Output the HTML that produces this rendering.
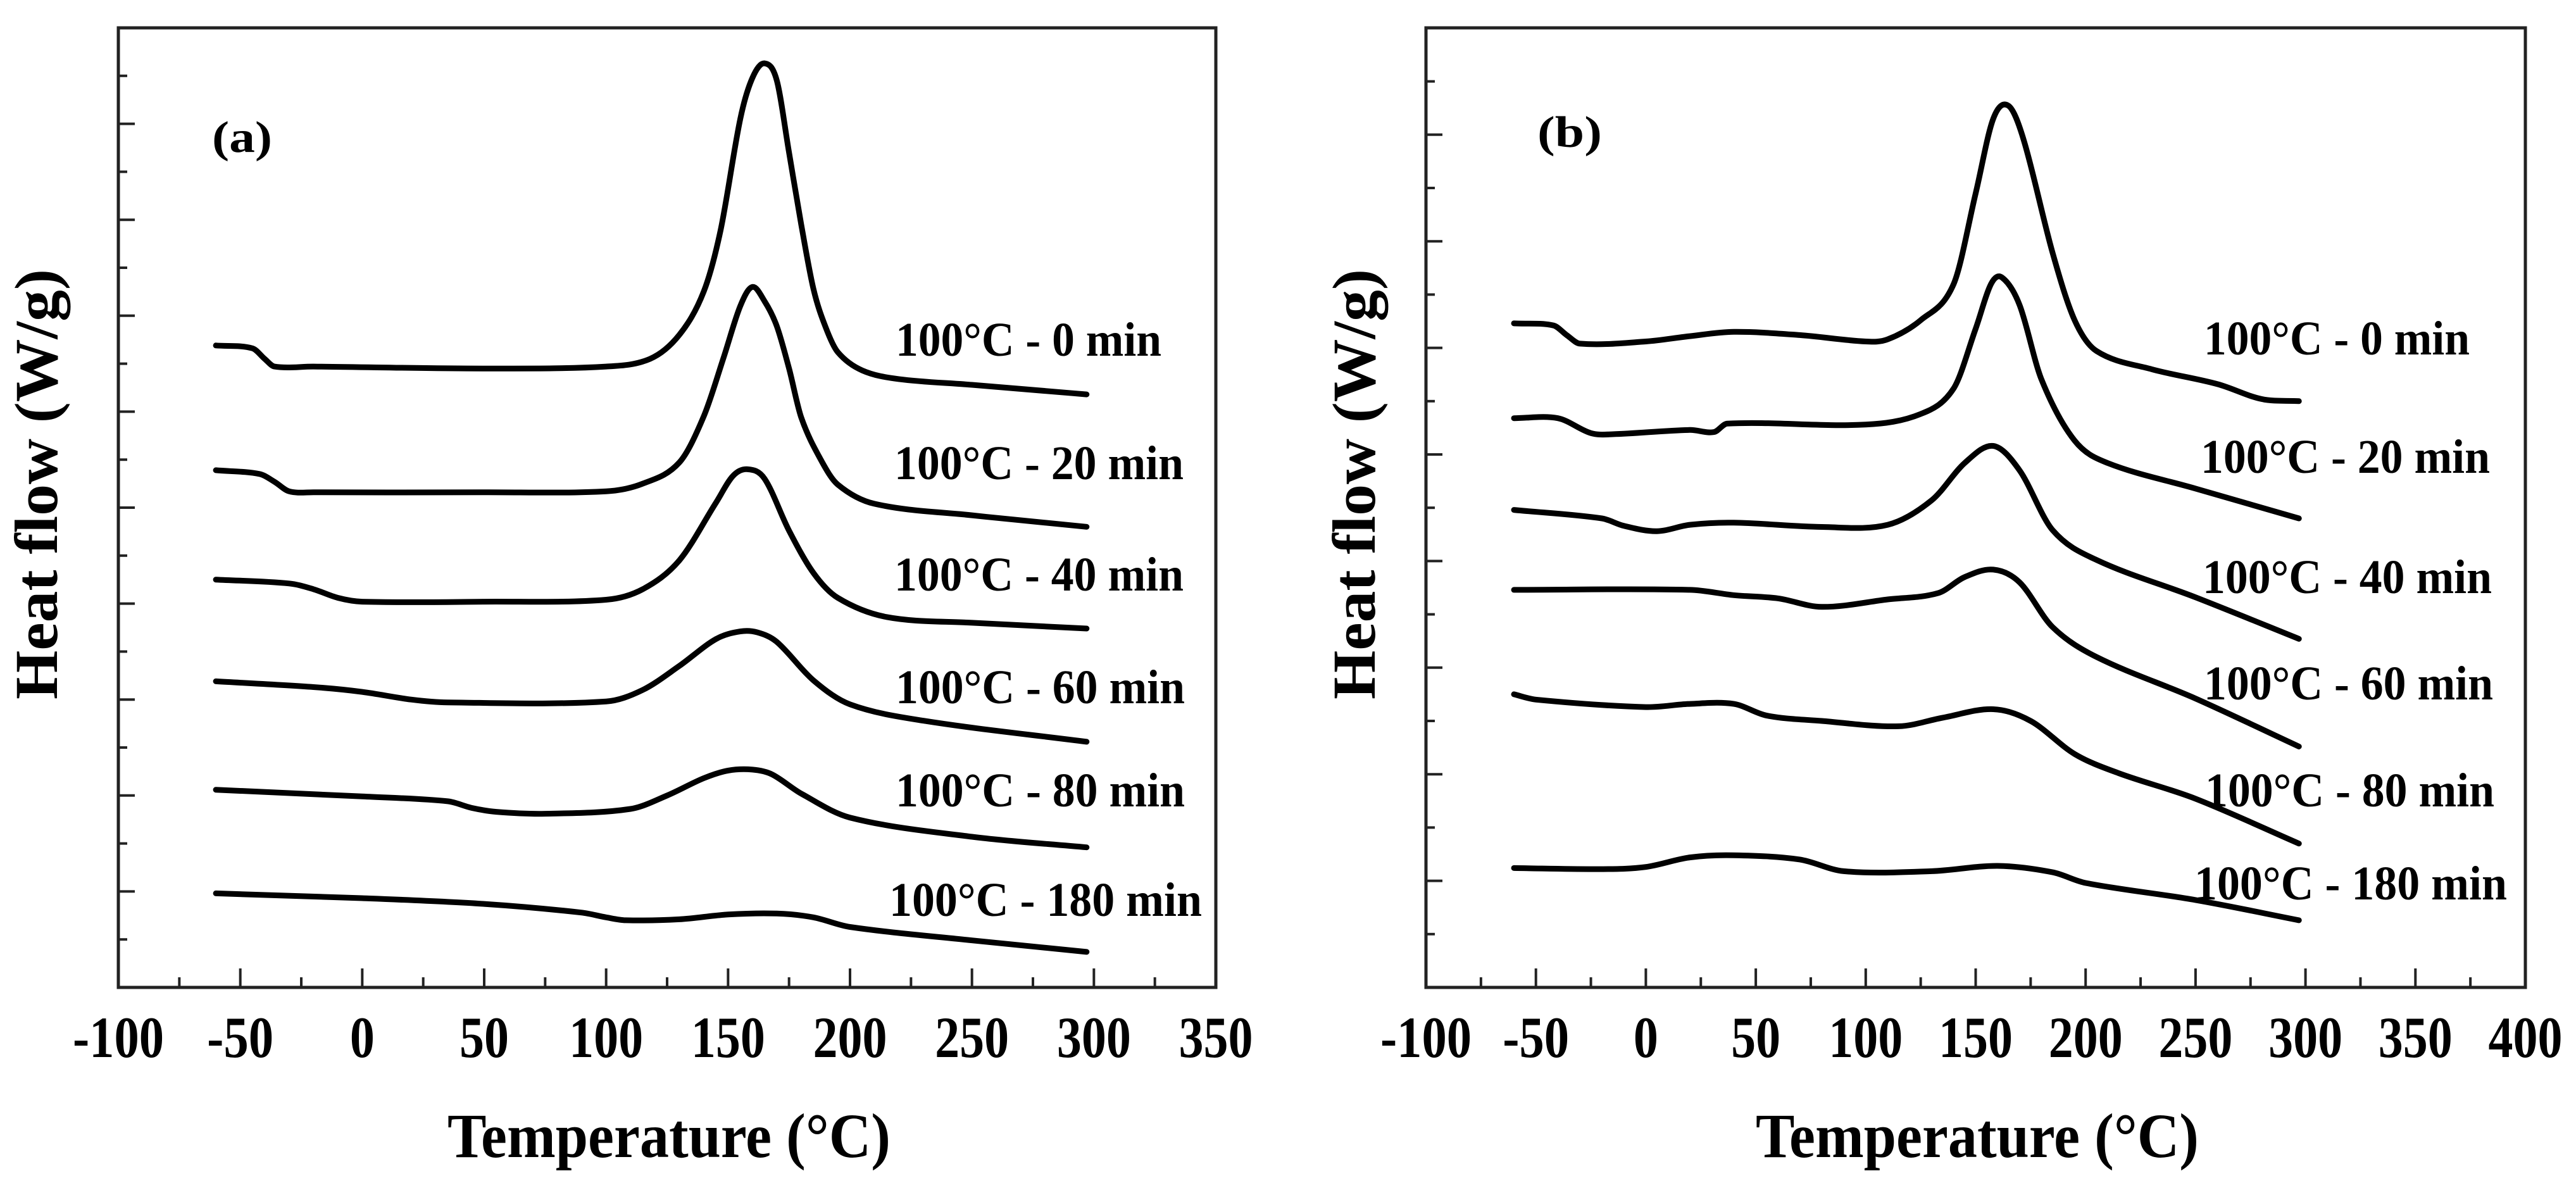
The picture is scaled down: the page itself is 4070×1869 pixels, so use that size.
<!DOCTYPE html>
<html><head><meta charset="utf-8"><style>
html,body{margin:0;padding:0;background:#fff;}
svg{display:block;}
text{font-family:"Liberation Serif","DejaVu Serif",serif;font-weight:bold;fill:#000;}
</style></head><body>
<svg id="chart" width="4070" height="1869" viewBox="0 0 4070 1869" xmlns="http://www.w3.org/2000/svg"></svg>
<script>
// ---- data (temperature °C, heat flow in tick units) ----
const seriesLabels = ["100°C - 0 min","100°C - 20 min","100°C - 40 min","100°C - 60 min","100°C - 80 min","100°C - 180 min"];
const xTicksA = [-100,-50,0,50,100,150,200,250,300,350];
const xTicksB = [-100,-50,0,50,100,150,200,250,300,350,400];

const a0T = [-60,-45,-40,-36,-20,50,100,118,130,140,147,155,160,165,170,175,180,185,190,195,205,220,250,297];
const a0V = [6.69,6.66,6.55,6.47,6.47,6.45,6.47,6.55,6.80,7.25,7.90,9.05,9.48,9.63,9.45,8.70,7.95,7.28,6.88,6.62,6.43,6.34,6.28,6.18];
const a20T = [-60,-42,-36,-30,-20,50,100,115,130,140,148,155,160,165,170,175,180,188,195,210,250,297];
const a20V = [5.39,5.35,5.27,5.17,5.16,5.16,5.17,5.25,5.47,5.95,6.55,7.10,7.30,7.15,6.89,6.45,5.94,5.50,5.24,5.04,4.92,4.80];
const a40T = [-60,-30,-20,-10,0,50,100,115,130,145,152,158,165,175,185,195,215,250,297];
const a40V = [4.25,4.21,4.15,4.06,4.02,4.02,4.04,4.15,4.45,5.05,5.33,5.40,5.30,4.76,4.32,4.06,3.86,3.80,3.74];
const a60T = [-60,-20,0,20,35,100,115,130,145,155,162,170,185,200,230,297];
const a60V = [3.19,3.13,3.08,3.00,2.97,2.98,3.10,3.35,3.63,3.71,3.70,3.60,3.20,2.95,2.78,2.56];
const a80T = [-60,0,35,45,55,75,110,125,140,150,160,168,180,200,250,297];
const a80V = [2.06,1.99,1.94,1.87,1.83,1.81,1.86,2.00,2.18,2.26,2.27,2.22,2.02,1.77,1.57,1.46];
const a180T = [-60,0,50,90,100,108,130,150,170,185,200,250,297];
const a180V = [0.98,0.93,0.87,0.78,0.73,0.70,0.71,0.76,0.77,0.73,0.63,0.49,0.37];

const b0T = [-60,-42,-36,-30,0,20,40,70,100,110,125,140,150,158,165,172,185,195,205,230,260,280,297];
const b0V = [6.23,6.21,6.12,6.04,6.06,6.11,6.15,6.12,6.06,6.08,6.26,6.60,7.45,8.15,8.27,7.94,6.89,6.26,5.97,5.80,5.66,5.52,5.50];
const b20T = [-60,-40,-25,-15,20,31,37,100,125,140,150,157,162,170,180,195,210,250,297];
const b20V = [5.34,5.34,5.20,5.19,5.23,5.21,5.29,5.28,5.38,5.62,6.18,6.60,6.66,6.40,5.70,5.13,4.92,4.68,4.40];
const b40T = [-60,-20,-10,5,20,40,80,110,130,145,158,170,185,205,250,297];
const b40V = [4.48,4.40,4.33,4.28,4.34,4.36,4.32,4.34,4.57,4.92,5.08,4.85,4.29,4.01,3.66,3.27];
const b60T = [-60,20,40,60,80,110,133,145,158,170,185,205,250,297];
const b60V = [3.73,3.73,3.68,3.65,3.57,3.64,3.70,3.85,3.92,3.80,3.38,3.10,2.71,2.26];
const b80T = [-60,-50,0,20,40,55,80,115,135,158,175,195,215,250,297];
const b80V = [2.75,2.70,2.63,2.66,2.66,2.55,2.50,2.45,2.53,2.61,2.50,2.19,2.01,1.77,1.35];
const b180T = [-60,-20,0,20,40,70,90,130,160,185,200,250,297];
const b180V = [1.12,1.11,1.13,1.22,1.24,1.20,1.09,1.09,1.14,1.08,0.98,0.82,0.63];

const NS = "http://www.w3.org/2000/svg";
const svg = document.getElementById('chart');
function el(tag, attrs, parent){ const e=document.createElementNS(NS,tag); for(const k in attrs) e.setAttribute(k,attrs[k]); (parent||svg).appendChild(e); return e; }

// Hermite spline parametrised by x (no loops for monotonic x)
function smoothPath(pts){
  const n=pts.length, m=[];
  for(let i=0;i<n;i++){
    const a=pts[Math.max(0,i-1)], b=pts[Math.min(n-1,i+1)];
    m.push((b[1]-a[1])/(b[0]-a[0]));
  }
  let d = "M"+pts[0][0].toFixed(1)+","+pts[0][1].toFixed(1);
  for(let i=0;i<n-1;i++){
    const p1=pts[i], p2=pts[i+1], dx=(p2[0]-p1[0])/3;
    d+=" C"+(p1[0]+dx).toFixed(1)+","+(p1[1]+m[i]*dx).toFixed(1)+" "+(p2[0]-dx).toFixed(1)+","+(p2[1]-m[i+1]*dx).toFixed(1)+" "+p2[0].toFixed(1)+","+p2[1].toFixed(1);
  }
  return d;
}

function panel(cfg){
  const g = el('g',{});
  
  
  const X = t => cfg.left + (t-cfg.xmin)/(cfg.xmax-cfg.xmin)*(cfg.right-cfg.left);
  const Y = v => cfg.bottom - v*cfg.unit;
  const fr = el('rect',{x:cfg.left,y:cfg.top,width:cfg.right-cfg.left,height:cfg.bottom-cfg.top,fill:'none',stroke:'#222','stroke-width':5},g);
  
  
  for(let t=cfg.xmin;t<=cfg.xmax;t+=25){
    const major = (t%50===0);
    if(t===cfg.xmin||t===cfg.xmax) continue;
    const tk = el('line',{x1:X(t),x2:X(t),y1:cfg.bottom,y2:cfg.bottom-(major?30:16),stroke:'#222','stroke-width':4},g);
    
    
  }
  cfg.xticks.forEach(t=>{
    const s=String(t);
    const tx = el('text',{x:X(t),y:1670,'text-anchor':'middle','font-size':92,textLength:(s.length*39-(t<0?12:0)),lengthAdjust:'spacingAndGlyphs'},g);
    tx.textContent=s;
    
    
  });
  for(let v=0.5; v<cfg.ymax-0.01; v+=0.5){
    const major = Math.abs(v-Math.round(v))<0.01;
    const tk = el('line',{x1:cfg.left,x2:cfg.left+(major?26:14),y1:Y(v),y2:Y(v),stroke:'#222','stroke-width':4},g);
    
    
  }
  cfg.series.forEach((s,i)=>{
    const pts = s[0].map((t,j)=>[X(t),Y(s[1][j])]);
    const p = el('path',{d:smoothPath(pts),fill:'none',stroke:'#000','stroke-width':9,'stroke-linecap':'round','stroke-linejoin':'round'},g);
    
    
    const lb = el('text',{x:cfg.labelX[i],y:cfg.labelY[i],'font-size':76,textLength:cfg.labelW[i],lengthAdjust:'spacingAndGlyphs'},g);
    lb.textContent = seriesLabels[i];
    
    
  });
  const pl = el('text',{x:cfg.tagX,y:cfg.tagY,'font-size':70,textLength:cfg.tagW,lengthAdjust:'spacingAndGlyphs'},g);
  pl.textContent = cfg.tag;
  
  
  const yt = el('text',{x:0,y:0,'text-anchor':'middle','font-size':96,textLength:680,lengthAdjust:'spacingAndGlyphs',transform:'translate('+cfg.yTitleX+',765) rotate(-90)'},g);
  yt.textContent = "Heat flow (W/g)";
  
  
  const xt = el('text',{x:cfg.xTitleX,y:1828,'text-anchor':'middle','font-size':100,textLength:700,lengthAdjust:'spacingAndGlyphs'},g);
  xt.textContent = "Temperature (°C)";
  
  
}

panel({name:'panel-a',left:187,right:1921,top:44,bottom:1560,xmin:-100,xmax:350,ymax:10,unit:151.6,
  xticks:xTicksA,
  series:[[a0T,a0V],[a20T,a20V],[a40T,a40V],[a60T,a60V],[a80T,a80V],[a180T,a180V]],
  labelX:[1415,1413,1413,1415,1415,1405],labelY:[562,757,933,1111,1274,1447],labelW:[420,457,457,457,457,494],
  tag:'(a)',tagX:335,tagY:240,tagW:95,yTitleX:90,xTitleX:1057});
panel({name:'panel-b',left:2253,right:3990,top:44,bottom:1560,xmin:-100,xmax:400,ymax:9,unit:168.4,
  xticks:xTicksB,
  series:[[b0T,b0V],[b20T,b20V],[b40T,b40V],[b60T,b60V],[b80T,b80V],[b180T,b180V]],
  labelX:[3482,3477,3480,3482,3484,3467],labelY:[560,747,937,1105,1274,1421],labelW:[420,457,457,457,457,494],
  tag:'(b)',tagX:2429,tagY:232,tagW:102,yTitleX:2172,xTitleX:3124});
</script>
</body></html>
